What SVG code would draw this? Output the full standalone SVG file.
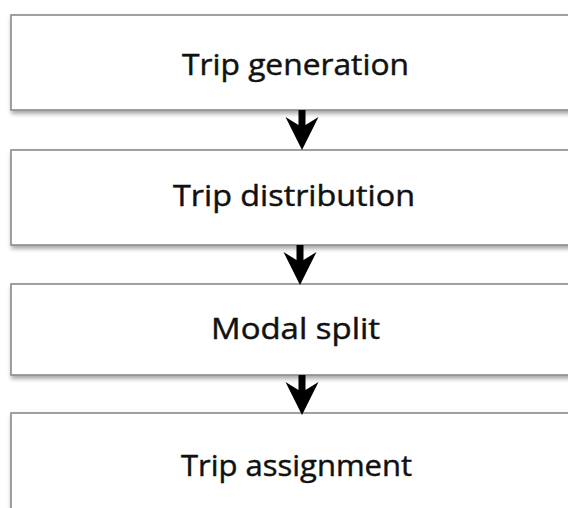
<svg xmlns="http://www.w3.org/2000/svg" width="568" height="508" viewBox="0 0 568 508">
<defs>
<filter id="sh" x="-5%" y="-10%" width="115%" height="130%">
<feDropShadow dx="1" dy="3" stdDeviation="2" flood-color="#000" flood-opacity="0.35"/>
</filter>
<path id="arr" d="M-3.5,0 H3.5 V15 L16.5,7 L0,40 L-16.5,7 L-3.5,15 Z" fill="#000"/>
</defs>
<style>
.box{fill:#fff;stroke:#8a8a8a;stroke-width:1.6;filter:url(#sh)}
.lbl{font-family:"Open Sans","Noto Sans","Liberation Sans",sans-serif;font-size:29px;fill:#111;stroke:#111;stroke-width:0.45;text-anchor:middle}
</style>
<rect width="568" height="508" fill="#fff"/>
<g id="n1"><rect class="box" x="11" y="15" width="580" height="95"/><text class="lbl" x="295.5" y="75" textLength="227" lengthAdjust="spacingAndGlyphs">Trip generation</text></g>
<g id="n2"><rect class="box" x="11" y="150" width="580" height="95"/><text class="lbl" x="294" y="206" textLength="242" lengthAdjust="spacingAndGlyphs">Trip distribution</text></g>
<g id="n3"><rect class="box" x="11" y="284" width="580" height="91"/><text class="lbl" x="295.5" y="339" textLength="169" lengthAdjust="spacingAndGlyphs">Modal split</text></g>
<g id="n4"><rect class="box" x="11" y="413" width="580" height="120"/><text class="lbl" x="296.5" y="476" textLength="231" lengthAdjust="spacingAndGlyphs">Trip assignment</text></g>
<g id="connectors">
<use href="#arr" x="302" y="110"/>
<use href="#arr" x="300" y="245"/>
<use href="#arr" x="302" y="375"/>
</g>
</svg>
